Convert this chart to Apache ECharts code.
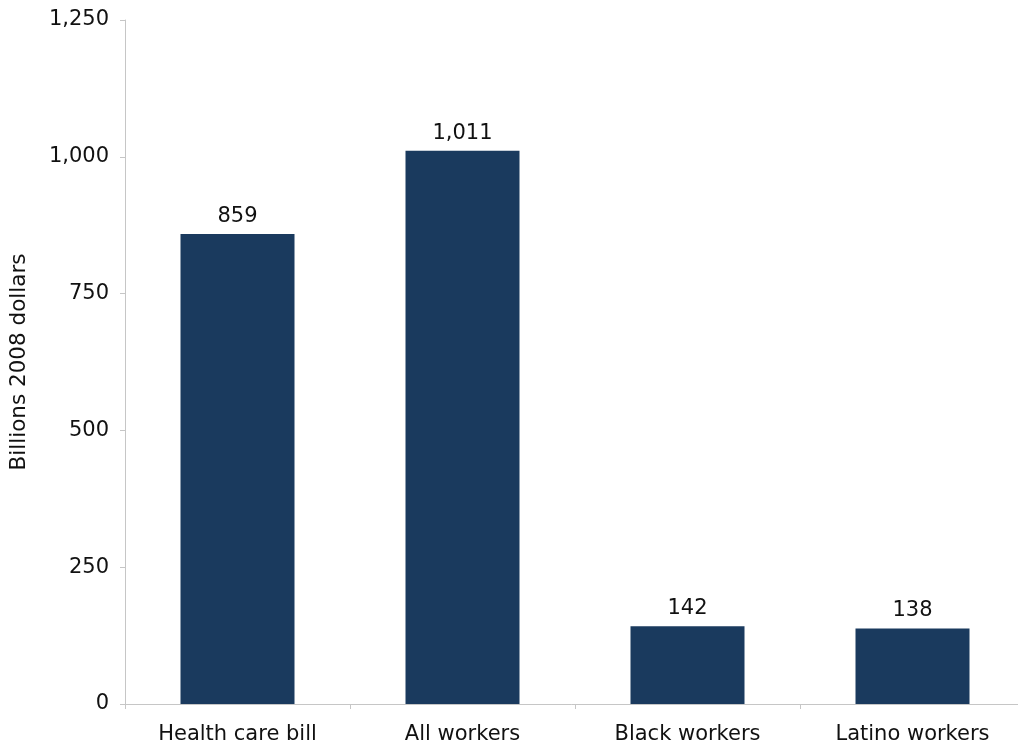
<!DOCTYPE html>
<html>
<head>
<meta charset="utf-8">
<script src="https://cdn.jsdelivr.net/npm/echarts@6/dist/echarts.min.js"></script>
<style>
html,body{margin:0;padding:0;background:#fff;}
#chart{width:1018px;height:747px;}
</style>
</head>
<body>
<div id="chart"></div>
<script>
const categories = ["Health care bill", "All workers", "Black workers", "Latino workers"];
const values = [859, 1011, 142, 138];
const yTicks = [0, 250, 500, 750, 1000, 1250];

const chart = echarts.init(document.getElementById('chart'), null, {renderer: 'canvas'});
const font = 'DejaVu Sans, Verdana, sans-serif';
chart.setOption({
  animation: false,
  grid: {left: 125, right: -7, top: 20, bottom: 43, containLabel: false, outerBoundsMode: 'none'},
  xAxis: {
    type: 'category',
    data: categories,
    axisLine: {lineStyle: {color: '#c6c6c6', width: 1}},
    axisTick: {show: true, alignWithLabel: false, length: 5, lineStyle: {color: '#c6c6c6'}},
    axisLabel: {color: '#111', fontSize: 21, fontFamily: font, margin: 20}
  },
  yAxis: {
    type: 'value',
    min: yTicks[0],
    max: yTicks[yTicks.length - 1],
    interval: 250,
    name: 'Billions 2008 dollars',
    nameLocation: 'middle',
    nameGap: 95,
    nameTextStyle: {color: '#111', fontSize: 21.5, fontFamily: font},
    axisLine: {show: true, lineStyle: {color: '#c6c6c6', width: 1}},
    axisTick: {show: true, length: 5, lineStyle: {color: '#c6c6c6'}},
    splitLine: {show: false},
    axisLabel: {
      color: '#111', fontSize: 21, fontFamily: font, margin: 16,
      formatter: v => v.toLocaleString('en-US')
    }
  },
  series: [{
    type: 'bar',
    data: values,
    barWidth: 114,
    itemStyle: {color: '#1a3a5e'},
    label: {
      show: true, position: 'top', distance: 7,
      color: '#111', fontSize: 21, fontFamily: font,
      formatter: p => p.value.toLocaleString('en-US')
    }
  }]
});
</script>
</body>
</html>
